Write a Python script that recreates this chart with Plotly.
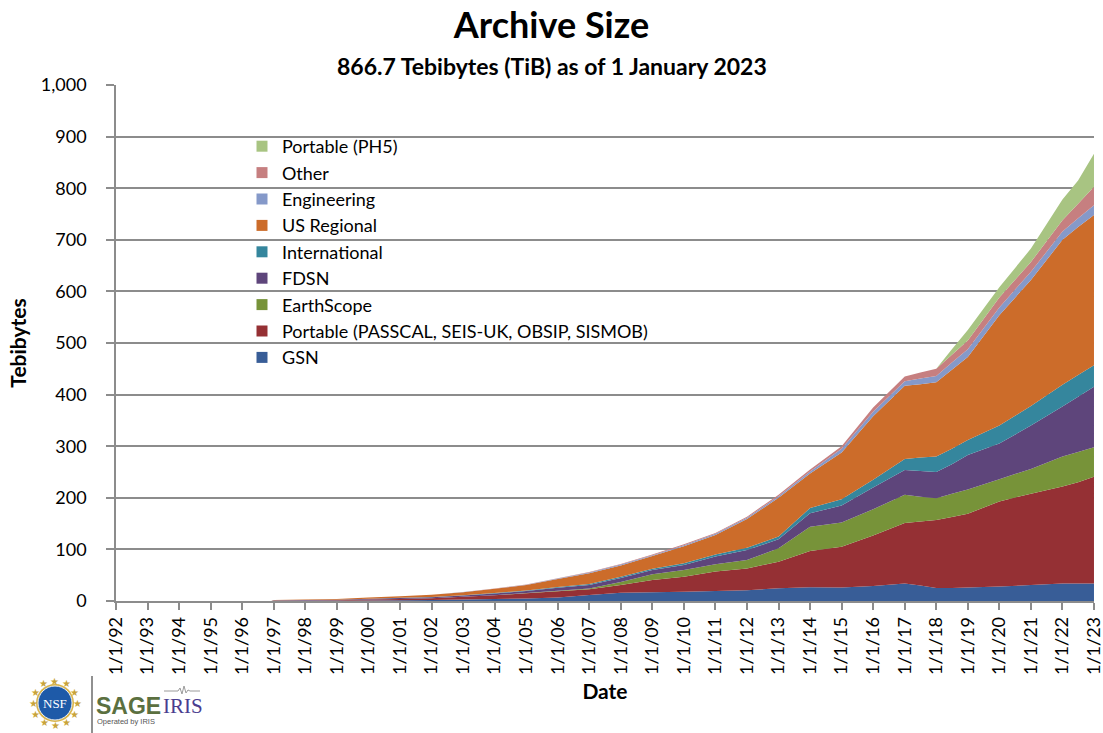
import math
import plotly.graph_objects as go

# ---------------------------------------------------------------------------
# Archive holdings by data source (TiB per stack layer; layers sum to total)
# ---------------------------------------------------------------------------
dates = [
    "1992-01-01", "1996-12-01", "1997-01-01", "1998-01-01", "1999-01-01",
    "2000-01-01", "2001-01-01", "2002-01-01", "2003-01-01", "2004-01-01",
    "2005-01-01", "2006-01-01", "2007-01-01", "2008-01-01", "2009-01-01",
    "2010-01-01", "2011-01-01", "2012-01-01", "2013-01-01", "2014-01-01",
    "2015-01-01", "2016-01-01", "2017-01-01", "2017-07-01", "2018-01-01",
    "2018-07-01", "2019-01-01", "2020-01-01", "2021-01-01", "2022-01-01",
    "2022-07-01", "2023-01-01",
]

gsn = [0, 0, 0.3, 0.5, 0.7, 1, 1.5, 2, 3, 4, 5, 7, 11.6, 16, 17, 18, 19.5, 21,
       24.5, 26.5, 26, 29, 34, 30, 25, 25, 26, 28, 31, 34, 34, 34]
portable = [0, 0, 0.5, 0.7, 0.9, 2, 2.5, 3.5, 5, 7, 10, 12, 11, 15, 23.7, 29,
            37.5, 42, 51.5, 70.5, 79, 98, 117, 124, 132, 138, 143, 165, 177,
            188, 196, 207]
earthscope = [0, 0, 0, 0, 0, 0, 0, 0, 0, 0.3, 0.5, 1, 1.4, 6, 11.3, 13, 14,
              16.5, 26, 47, 47, 51, 55, 48, 42, 45, 47, 43, 48, 58, 59, 57]
fdsn = [0, 0, 0.5, 0.8, 1, 1.5, 2, 2, 2.5, 3.2, 4, 5.5, 7, 7.6, 8, 10, 15,
        19.5, 17.5, 26, 33, 42, 48, 50, 51, 57, 67, 69, 84, 97, 107, 117]
international = [0, 0, 0, 0, 0, 0.1, 0.2, 0.3, 0.5, 0.8, 1, 1.5, 2, 2.4, 2.5,
                 3, 4, 4, 5.5, 10, 12, 15, 21, 26, 30, 30, 29, 35, 38, 42, 42,
                 42]
us_regional = [0, 0, 0.7, 1, 1.4, 2.4, 2.8, 4.2, 6, 8.2, 10.5, 15.5, 21, 22,
               24.5, 33, 38, 56, 75, 67, 91, 123, 142, 142, 144, 153, 161, 214,
               244, 281, 287, 291]
engineering = [0, 0, 0, 0, 0, 0, 0, 0, 0.2, 0.3, 0.5, 1, 1, 1.5, 1.5, 2, 2.5,
               2.5, 3, 4, 7, 9, 9, 11, 12, 14, 15, 15, 16, 16, 17, 19]
other = [0, 0, 0, 0, 0, 0, 0, 0, 0.1, 0.2, 0.5, 0.5, 1, 1, 1.5, 2, 1.5, 2, 3,
         4, 5, 8, 9, 12, 14, 15, 17, 19, 19, 22, 28, 36]
portable_ph5 = [0, 0, 0, 0, 0, 0, 0, 0, 0, 0, 0, 0, 0, 0, 0, 0, 0, 0, 0, 0,
                0, 0, 0, 0, 0, 11, 20, 20, 26, 40, 45, 63.7]

series_names = [
    "GSN",
    "Portable (PASSCAL, SEIS-UK, OBSIP, SISMOB)",
    "EarthScope",
    "FDSN",
    "International",
    "US Regional",
    "Engineering",
    "Other",
    "Portable (PH5)",
]
series_values = [gsn, portable, earthscope, fdsn, international, us_regional,
                 engineering, other, portable_ph5]
series_colors = ["#385D97", "#953034", "#779339", "#5E457B", "#35869D",
                 "#CC6C2A", "#8599C9", "#C67F80", "#A8C482"]

tick_years = list(range(1992, 2024))
tick_vals = [f"{y}-01-01" for y in tick_years]
tick_text = [f"1/1/{y % 100:02d}" for y in tick_years]

y_ticks = list(range(0, 1001, 100))

FONT = "Lato, 'Open Sans', sans-serif"
GRID = "#8c8c8c"

# Figure geometry (pixels) used to place decorations in paper coordinates
W, H = 1103, 733
L, R, T, B = 116, 9, 85, 132
PW, PH = W - L - R, H - T - B


def px(x):
    return (x - L) / PW


def py(y):
    return (H - B - y) / PH


fig = go.Figure()

# Stacked areas
for name, vals, col in zip(series_names, series_values, series_colors):
    fig.add_trace(go.Scatter(
        x=dates, y=vals, name=name, stackgroup="archive", mode="none",
        fillcolor=col, line=dict(width=0), showlegend=False,
        legendgroup=name, hoverinfo="x+y+name",
    ))

# Legend keys (square swatches), listed top layer first
for name, col in reversed(list(zip(series_names, series_colors))):
    fig.add_trace(go.Scatter(
        x=[None], y=[None], mode="markers", name=name, legendgroup=name,
        marker=dict(symbol="square", size=11, color=col),
        showlegend=True, hoverinfo="skip",
    ))

fig.update_layout(
    width=W, height=H,
    margin=dict(l=L, r=R, t=T, b=B, autoexpand=False),
    paper_bgcolor="white", plot_bgcolor="white",
    font=dict(family=FONT, color="black"),
    title=dict(text="<b>Archive Size</b>", x=0.5, xanchor="center",
               y=1 - 25 / H, yanchor="middle", yref="container",
               font=dict(size=36, family=FONT, color="black")),
    showlegend=True,
    legend=dict(x=px(242), y=py(128), xanchor="left", yanchor="top",
                bgcolor="rgba(0,0,0,0)", font=dict(size=18, family=FONT),
                traceorder="normal", itemsizing="trace"),
    xaxis=dict(
        type="date", range=["1991-12-31 18:00", "2023-01-01 06:00"],
        tickmode="array", tickvals=tick_vals, ticktext=tick_text,
        tickangle=-90, tickfont=dict(size=18, family=FONT),
        ticklabeloverflow="allow", automargin=False,
        ticks="outside", ticklen=7, tickwidth=1.5, tickcolor=GRID,
        showline=True, linecolor=GRID, linewidth=1.5,
        showgrid=False, zeroline=False,
        title=dict(text="<b>Date</b>", font=dict(size=21, family=FONT),
                   standoff=10),
    ),
    yaxis=dict(
        range=[0, 1000], tickmode="array", tickvals=y_ticks,
        tickformat=",d", tickfont=dict(size=18, family=FONT),
        ticks="outside", ticklen=8, tickwidth=1.5, tickcolor=GRID,
        ticklabelstandoff=16, automargin=False,
        showline=True, linecolor=GRID, linewidth=1.5,
        showgrid=True, gridcolor=GRID, gridwidth=1.5, zeroline=False,
        title=dict(text="<b>Tebibytes</b>", font=dict(size=21, family=FONT),
                   standoff=8),
    ),
)

# Subtitle
fig.add_annotation(
    text="<b>866.7 Tebibytes (TiB) as of 1 January 2023</b>",
    xref="paper", yref="paper", x=px(551.5), y=py(66),
    xanchor="center", yanchor="middle", showarrow=False,
    font=dict(size=23, family=FONT, color="black"),
)

# NSF seal (bottom-left)
cx, cy = 55, 703
for i in range(12):
    a = 2 * math.pi * i / 12
    fig.add_annotation(
        text="★", xref="paper", yref="paper",
        x=px(cx + 22 * math.cos(a)), y=py(cy + 22 * math.sin(a)),
        xanchor="center", yanchor="middle", showarrow=False,
        font=dict(size=10, color="#C9A43A", family="DejaVu Sans"),
    )
fig.add_shape(type="circle", xref="paper", yref="paper",
              x0=px(cx - 19), x1=px(cx + 19), y0=py(cy + 19), y1=py(cy - 19),
              fillcolor="#D9B44A", line=dict(width=0))
fig.add_shape(type="circle", xref="paper", yref="paper",
              x0=px(cx - 17), x1=px(cx + 17), y0=py(cy + 17), y1=py(cy - 17),
              fillcolor="#1E5AA8", line=dict(color="#E8EEF6", width=1))
fig.add_annotation(text="NSF", xref="paper", yref="paper",
                   x=px(cx), y=py(cy), xanchor="center", yanchor="middle",
                   showarrow=False,
                   font=dict(size=13, color="white", family="Liberation Serif"))

# Divider
fig.add_shape(type="line", xref="paper", yref="paper",
              x0=px(92), x1=px(92), y0=py(676), y1=py(733),
              line=dict(color="#6b6b6b", width=1.5))

# SAGE / IRIS wordmark
fig.add_annotation(text="<b>SAGE</b>", xref="paper", yref="paper",
                   x=px(94), y=py(706), xanchor="left", yanchor="middle",
                   showarrow=False,
                   font=dict(size=23, color="#5B7040",
                             family="Liberation Sans"))
fig.add_annotation(text="IRIS", xref="paper", yref="paper",
                   x=px(161), y=py(706), xanchor="left", yanchor="middle",
                   showarrow=False,
                   font=dict(size=21, color="#4A3D8F",
                             family="Liberation Serif"))
fig.add_annotation(text="Operated by IRIS", xref="paper", yref="paper",
                   x=px(95), y=py(721), xanchor="left", yanchor="middle",
                   showarrow=False,
                   font=dict(size=7.5, color="#555555",
                             family="Liberation Sans"))
wiggle = [(164, 691), (178, 691), (180, 688), (182, 694), (184, 686),
          (186, 693), (188, 690), (190, 691), (200, 691)]
path = "M" + " L".join(f"{px(a):.5f},{py(b):.5f}" for a, b in wiggle)
fig.add_shape(type="path", xref="paper", yref="paper", path=path,
              line=dict(color="#9a9a9a", width=1))

fig.write_html("out.html")
